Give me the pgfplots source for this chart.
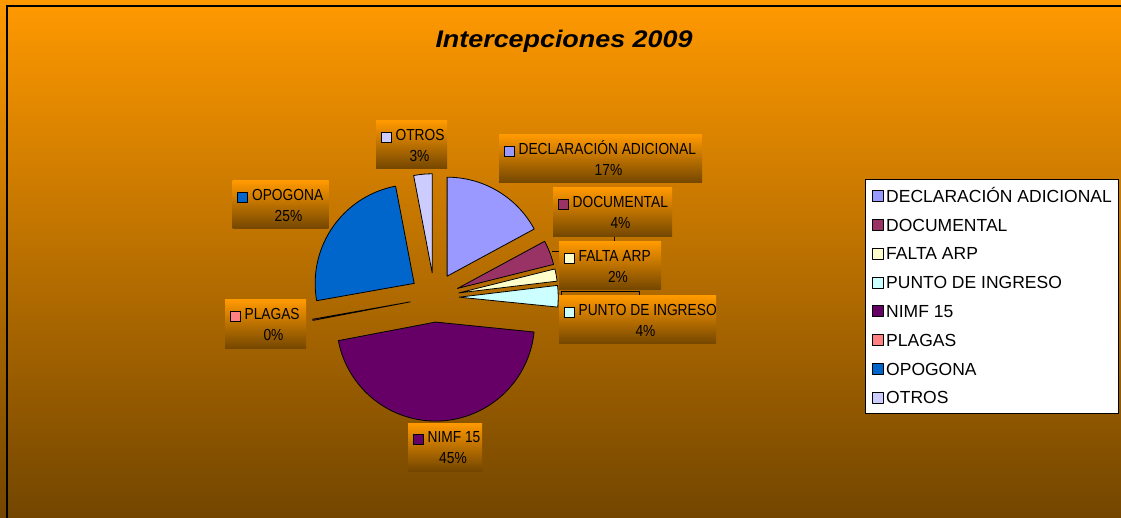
\documentclass[border=0pt]{standalone}
\usepackage{pgfplots}
\pgfplotsset{compat=1.18}
\usepackage{fontspec}
\setmainfont{Liberation Sans}
\newfontfamily\lblfont[FakeStretch=0.86]{Liberation Sans}
\newfontfamily\titlefont[FakeStretch=1.12]{Liberation Sans}
\definecolor{bgTop}{RGB}{255,153,0}
\definecolor{bgBot}{RGB}{115,70,0}
\definecolor{cDecl}{RGB}{153,153,255}
\definecolor{cDoc}{RGB}{153,51,102}
\definecolor{cFalta}{RGB}{255,255,204}
\definecolor{cPunto}{RGB}{204,255,255}
\definecolor{cNimf}{RGB}{102,0,102}
\definecolor{cPlagas}{RGB}{255,128,128}
\definecolor{cOpo}{RGB}{0,102,204}
\definecolor{cOtros}{RGB}{204,204,255}

% pie geometry (pixel units): centre, radius, explosion
\def\Cx{434.5}\def\Cy{297.4}\def\R{99}\def\D{24.7}
\gdef\cum{0}
\newcommand\slice[2]{%
  \pgfmathsetmacro\aS{90-3.6*\cum}%
  \pgfmathsetmacro\aE{90-3.6*(\cum+#1)}%
  \pgfmathsetmacro\aM{(\aS+\aE)/2}%
  \pgfmathsetmacro\cx{\Cx+\D*cos(\aM)}%
  \pgfmathsetmacro\cy{\Cy-\D*sin(\aM)}%
  \pgfmathsetmacro\cumnew{\cum+#1}%
  \global\let\cum\cumnew
  \edef\doslice{\noexpand\addplot[fill=#2, draw=black, line width=0.8pt, line join=round, domain=\aE:\aS, samples=90] ({\cx+\R*cos(x)},{\cy-\R*sin(x)}) -- (axis cs:\cx,\cy) -- cycle;}%
  \doslice
}
% label: left right top bottom color name pct
\newcommand\lbl[7]{%
  \shade[top color=bgTop, bottom color=bgBot] (axis cs:#1,#3) rectangle (axis cs:#2,#4);
  \draw[fill=#5, line width=0.9pt] (axis cs:#1+5,#3+11) rectangle (axis cs:#1+15,#3+21);
  \node[anchor=base west, inner sep=0pt, font=\lblfont\fontsize{16}{16}\selectfont] at (axis cs:#1+19.4,#3+19.4) {#6};
  \node[anchor=base, inner sep=0pt, font=\lblfont\fontsize{16}{16}\selectfont] at (axis cs:{(#1+#2)/2+8},#3+40.3) {#7};
}

\begin{document}
\begin{tikzpicture}
\useasboundingbox (0pt,0pt) rectangle (1121pt,518pt);
\shade[top color=bgTop, bottom color=bgBot] (0pt,0pt) rectangle (1121pt,518pt);
\draw[line width=2pt, black] (7pt,0pt) -- (7pt,512pt) -- (1121pt,512pt);
\begin{axis}[
  at={(0pt,0pt)}, anchor=south west,
  width=1121pt, height=518pt, scale only axis,
  xmin=0, xmax=1121, ymin=0, ymax=518, y dir=reverse,
  hide axis, clip=false,
  legend style={at={(axis cs:865,179.5)}, anchor=north west,
    draw=black, line width=0.8pt, fill=white,
    inner xsep=6.5pt, inner ysep=9.8pt, row sep=16.2pt,
    font=\fontsize{17.5}{17.5}\selectfont,
    nodes={inner sep=0pt, text height=12.6pt, text depth=0pt},
    /tikz/every even column/.append style={column sep=4.5pt}},
  legend cell align=left,
  legend image code/.code={\draw[#1, draw=black, line width=0.8pt] (0pt,-5.5pt) rectangle (11pt,5.5pt); \path (13.5pt,0pt);},
]
% percentages of each category (clockwise from 12 o'clock)
\slice{17.1}{cDecl}
\slice{4.0}{cDoc}
\slice{2.0}{cFalta}
\slice{3.5}{cPunto}
\slice{45.4}{cNimf}
\slice{0.2}{cPlagas}
\slice{24.8}{cOpo}
\slice{3.0}{cOtros}
\legend{DECLARACIÓN ADICIONAL, DOCUMENTAL, FALTA ARP, PUNTO DE INGRESO, NIMF 15, PLAGAS, OPOGONA, OTROS}

% leader lines
\draw[black, line width=0.8pt] (axis cs:614,236) -- (axis cs:614,251) -- (axis cs:552,251);
\draw[black, line width=0.8pt] (axis cs:561,296) -- (axis cs:561,291.5) -- (axis cs:639,291.5) -- (axis cs:639,296);

\lbl{376}{447}{121}{169}{cOtros}{OTROS}{3\%}
\lbl{499}{702}{135}{183}{cDecl}{DECLARACIÓN ADICIONAL}{17\%}
\lbl{553}{672}{188}{236.5}{cDoc}{DOCUMENTAL}{4\%}
\lbl{559}{661}{242}{290}{cFalta}{FALTA ARP}{2\%}
\lbl{559}{716}{296}{344}{cPunto}{PUNTO DE INGRESO}{4\%}
\lbl{232.5}{328.5}{181}{229}{cOpo}{OPOGONA}{25\%}
\lbl{225}{306}{300}{349}{cPlagas}{PLAGAS}{0\%}
\lbl{408}{482}{423}{471}{cNimf}{NIMF 15}{45\%}

\node[anchor=base, inner sep=0pt, font=\titlefont\bfseries\itshape\fontsize{24}{24}\selectfont] at (axis cs:564,48) {Intercepciones 2009};
\end{axis}
\end{tikzpicture}
\end{document}
